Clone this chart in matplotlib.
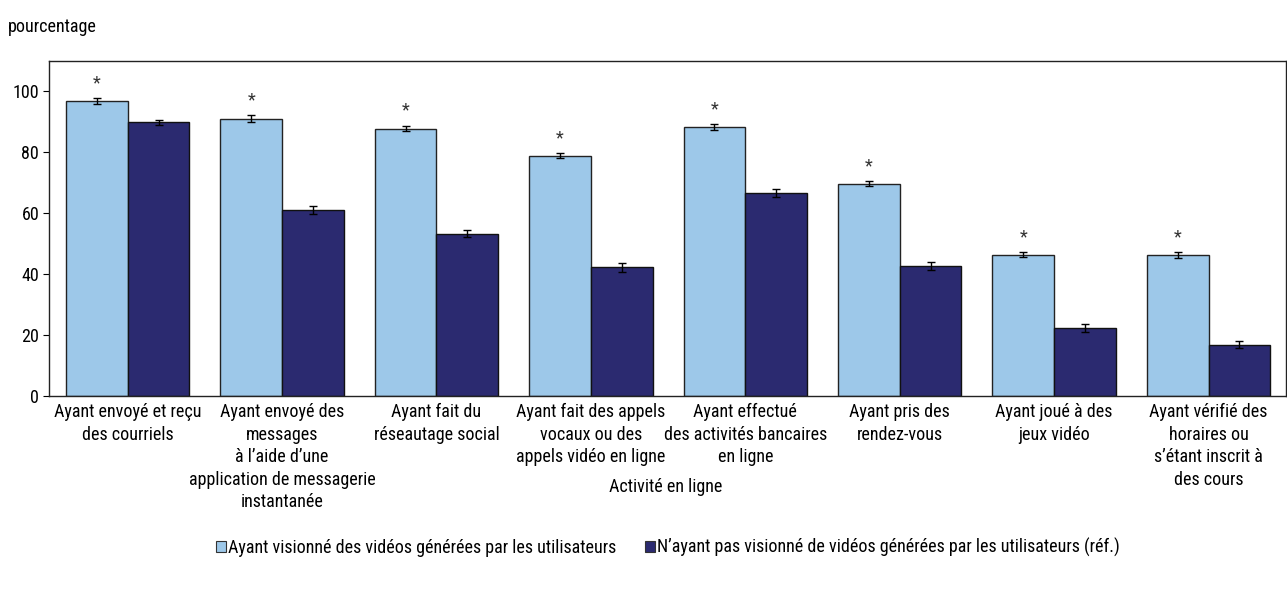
import matplotlib
matplotlib.use("Agg")
import matplotlib.pyplot as plt
from matplotlib.patches import Patch
import numpy as np

categories = [
    "Ayant envoyé et reçu\ndes courriels",
    "Ayant envoyé des\nmessages\nà l\u2019aide d\u2019une\napplication de messagerie\ninstantanée",
    "Ayant fait du\nréseautage social",
    "Ayant fait des appels\nvocaux ou des\nappels vidéo en ligne",
    "Ayant effectué\ndes activités bancaires\nen ligne",
    "Ayant pris des\nrendez-vous",
    "Ayant joué à des\njeux vidéo",
    "Ayant vérifié des\nhoraires ou\ns\u2019étant inscrit à\ndes cours",
]
viewers = [96.8, 91.1, 87.8, 78.9, 88.3, 69.7, 46.4, 46.3]
viewers_err = [0.9, 1.0, 0.9, 0.9, 0.9, 0.9, 0.9, 0.9]
non_viewers = [89.9, 61.0, 53.3, 42.2, 66.6, 42.7, 22.3, 16.8]
non_viewers_err = [0.8, 1.4, 1.2, 1.4, 1.4, 1.4, 1.3, 1.1]
significant = [True] * 8

series_labels = [
    "Ayant visionné des vidéos générées par les utilisateurs",
    "N\u2019ayant pas visionné de vidéos générées par les utilisateurs (réf.)",
]

plt.rcParams["font.family"] = ["Roboto Condensed", "Archivo Narrow", "DejaVu Sans"]
plt.rcParams["font.size"] = 13

light = "#9dc8e9"
dark = "#2b2a70"

fig = plt.figure(figsize=(12.87, 5.95), dpi=100)
ax = fig.add_axes([0.038, 0.3345, 0.961, 0.563])

x = np.arange(len(categories))
w = 0.4
ax.bar(x - w / 2, viewers, w, color=light, edgecolor="#222222", linewidth=1.0,
       yerr=viewers_err, error_kw=dict(ecolor="black", elinewidth=1.0, capsize=3, capthick=1.0),
       label=series_labels[0], zorder=2)
ax.bar(x + w / 2, non_viewers, w, color=dark, edgecolor="#111111", linewidth=1.0,
       yerr=non_viewers_err, error_kw=dict(ecolor="black", elinewidth=1.0, capsize=3, capthick=1.0),
       label=series_labels[1], zorder=2)

for xi, v, e, s in zip(x, viewers, viewers_err, significant):
    if s:
        ax.text(xi - w / 2, v + e + 2.0, "*", ha="center", va="bottom",
                fontsize=13, color="#333333")

ax.set_xlim(-0.51, 7.5)
ax.set_ylim(0, 110)
ax.set_yticks([0, 20, 40, 60, 80, 100])
ax.set_xticks(x)
ax.set_xticklabels(categories, linespacing=1.33)
ax.tick_params(axis="x", length=0, pad=5)
ax.tick_params(axis="y", length=4, direction="out", pad=3)
for sp in ax.spines.values():
    sp.set_color("#222222")
    sp.set_linewidth(1.0)

fig.text(0.517, 0.1815, "Activité en ligne", ha="center", va="center", fontsize=13)
fig.text(0.006, 0.955, "pourcentage", ha="left", va="center", fontsize=13)

handles = [Patch(facecolor=light, edgecolor="#333333", linewidth=0.8),
           Patch(facecolor=dark, edgecolor="#333333", linewidth=0.8)]
fig.legend(handles, series_labels, loc="center", bbox_to_anchor=(0.519, 0.08),
           ncol=2, frameon=False, handlelength=0.55, handleheight=0.55,
           handletextpad=0.12, columnspacing=1.6, fontsize=13)

fig.savefig("out.png", dpi=100)
